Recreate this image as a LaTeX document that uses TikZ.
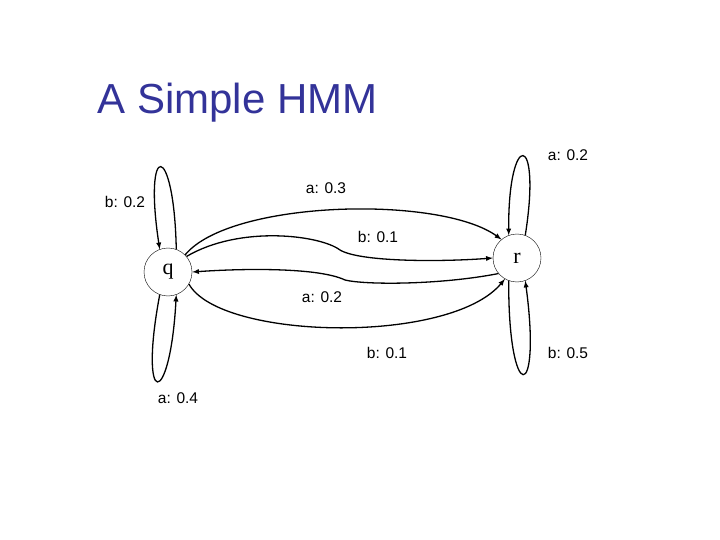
\documentclass[tikz,border=0pt]{standalone}
\usepackage{fontspec}
\setmainfont{Liberation Sans}
\newfontfamily\serifx{Liberation Serif}
\definecolor{ttl}{RGB}{51,51,153}
\begin{document}
\begin{tikzpicture}[x=1pt,y=-1pt,
  st/.style={circle,draw,thin,minimum size=48pt,inner sep=0pt,font=\serifx\fontsize{22}{22}\selectfont},
  lab/.style={font=\fontsize{15.5}{15.5}\selectfont},
  ar/.style={-latex,line width=1.3pt}]
\useasboundingbox (0,0) rectangle (720,540);
\node[font=\fontsize{42}{42}\selectfont,text=ttl,anchor=west] (t) at (94,103) {A Simple HMM};
\node[st] (q) at (168,272) {q};
\node[st] (r) at (517,258) {r};
% loops
\draw[ar] (q.70) .. controls (174,140) and (143,140) .. (q.110);
\draw[ar] (q.250) .. controls (138,410) and (170,410) .. (q.290);
\draw[ar] (r.70) .. controls (542,130) and (508,130) .. (r.110);
\draw[ar] (r.250) .. controls (508,405) and (542,405) .. (r.290);
% arcs
\draw[ar] (q.45) .. controls (230,200) and (440,195) .. (r.130);
\draw[ar] (q.40) .. controls (240,225) and (320,235) .. (340,250) .. controls (360,262) and (440,262) .. (r.180);
\draw[ar] (r.220) .. controls (440,285) and (365,285) .. (345,280) .. controls (320,268) and (250,268) .. (q.0);
\draw[ar] (q.-30) .. controls (220,340) and (450,345) .. (r.240);
\node[lab] (l1) at (568,155) {a: 0.2};
\node[lab] (l2) at (125,202) {b: 0.2};
\node[lab] (l3) at (326,188) {a: 0.3};
\node[lab] (l4) at (378,237) {b: 0.1};
\node[lab] (l5) at (322,297) {a: 0.2};
\node[lab] (l6) at (387,353) {b: 0.1};
\node[lab] (l7) at (568,353) {b: 0.5};
\node[lab] (l8) at (178,398) {a: 0.4};
\end{tikzpicture}
\end{document}
